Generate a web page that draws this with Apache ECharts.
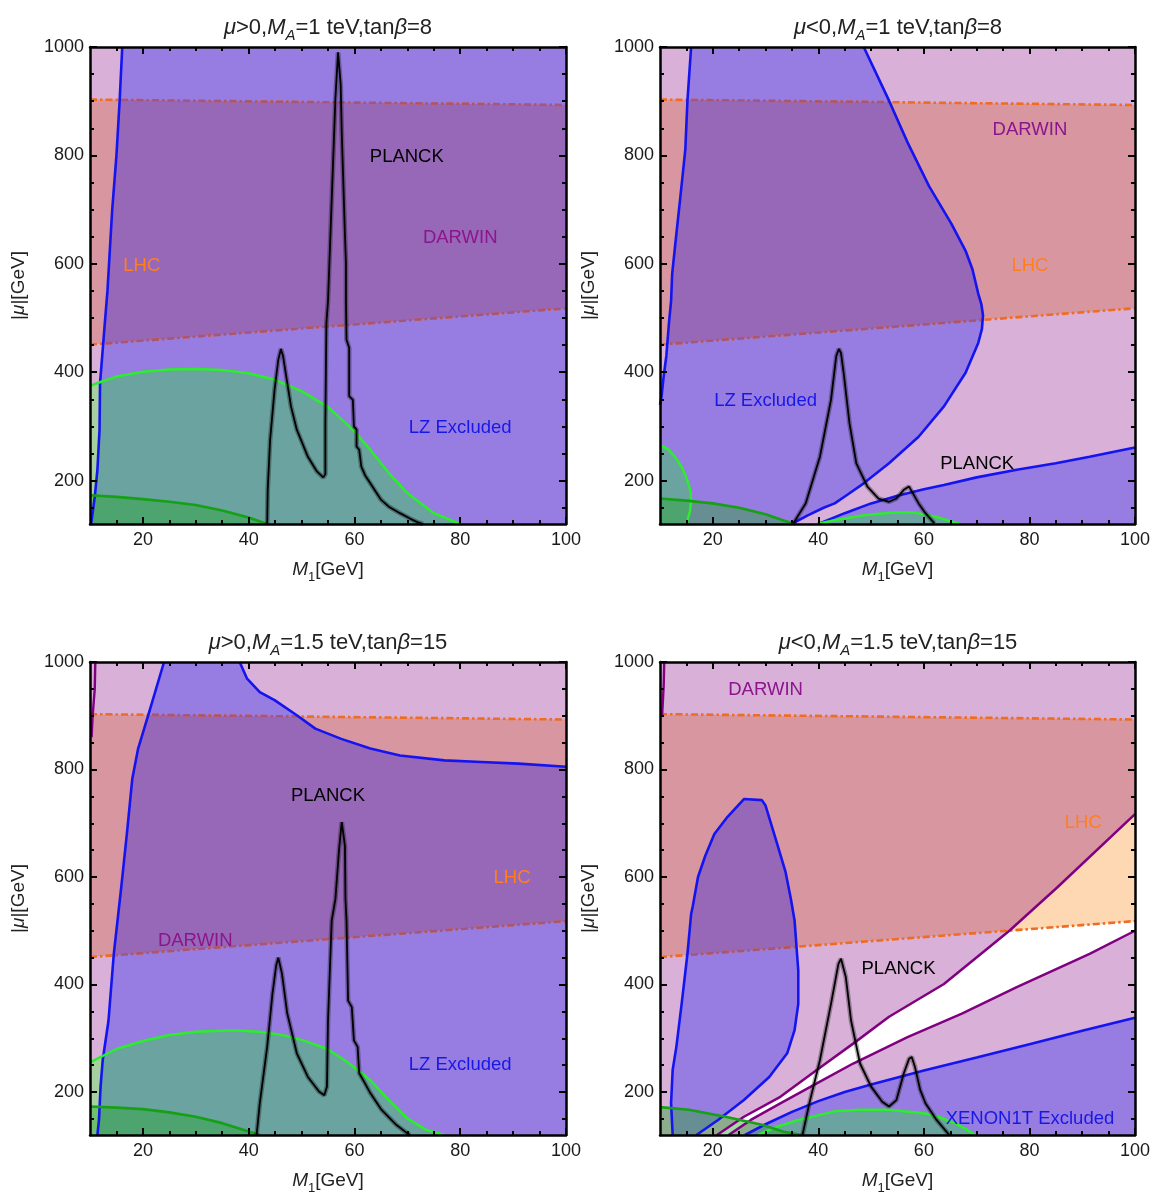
<!DOCTYPE html>
<html><head><meta charset="utf-8">
<script src="https://cdn.jsdelivr.net/npm/echarts@6/dist/echarts.min.js"></script>
<style>html,body{margin:0;padding:0;background:#fff}#c{width:1153px;height:1196px}</style>
</head><body><div id="c"></div>
<script>
// ---------------- DATA ----------------
const X_MIN = 10, X_MAX = 100, Y_MIN = 120, Y_MAX = 1000;
const xMajor = [20, 40, 60, 80, 100];
const xMinor = [15, 25, 30, 35, 45, 50, 55, 65, 70, 75, 85, 90, 95];
const yMajor = [200, 400, 600, 800, 1000];
const yMinor = [150, 250, 300, 350, 450, 500, 550, 650, 700, 750, 850, 900, 950];

const titles = [
  '{i|μ}>0,{i|M}{s|A}=1 teV,tan{i|β}=8',
  '{i|μ}<0,{i|M}{s|A}=1 teV,tan{i|β}=8',
  '{i|μ}>0,{i|M}{s|A}=1.5 teV,tan{i|β}=15',
  '{i|μ}<0,{i|M}{s|A}=1.5 teV,tan{i|β}=15'
];

// LHC band boundaries (same in all panels)
const lhcUpper = [[10, 903], [100, 893]];
const lhcLower = [[10, 451], [100, 518]];

// Panel A: mu>0, MA=1 TeV, tanb=8
const aLZ = [[10.2,120],[10.4,133],[10.9,170],[11.4,220],[11.8,293],[11.9,380],[12.7,478],[13.3,550],[14.2,700],[15.0,800],[15.6,900],[16.1,1000]];
const aGreen = [[10,375],[12,382],[15,392],[20,401],[25,405],[30,406],[35,404],[40,398],[45,386],[50,365],[55,336],[60,291],[63,257],[66.5,214],[70,177],[75,140],[80,120]];
const aDarkGreen = [[10,173],[15,170],[20,166],[25,161],[30,155],[35,145],[40,132],[43.5,120]];
const aPlanck = [[43.5,120],[43.6,183],[44.05,275],[44.9,368],[45.6,423],[46.1,443],[46.5,430],[47,399],[48,337],[49.1,294],[51.2,244],[52.9,217],[54.1,206],[54.5,212],[54.5,306],[54.7,491],[55,531],[55.7,718],[56.4,905],[56.9,990],[57.4,930],[57.6,842],[58.2,655],[58.4,600],[58.4,531],[58.5,460],[59,445],[59,356],[59.7,349],[59.9,300],[60.4,294],[60.4,263],[60.9,257],[61.3,226],[62,210],[63,195],[64,180],[65,165],[66.5,152],[68.6,140],[70.5,130],[72,123],[73,120]];

// Panel B: mu<0, MA=1 TeV, tanb=8
const bLZLeft = [[15.9,1000],[15.2,901],[14.8,811],[13.8,718],[13.1,655],[12.3,581],[12.1,531],[11.7,491],[11.2,430],[10.7,393],[10.3,356],[10,340]];
const bLZRight = [[34.9,120],[38,136],[41,150],[43.1,158],[45.5,174],[48.6,195],[53.4,232],[59,281],[63.8,337],[67.9,399],[70.3,454],[71.0,480],[71.2,505],[70.9,525],[70.3,545],[69.2,590],[67.9,624],[65.2,674],[61,743],[56.9,824],[53.4,901],[48.6,1000]];
const bLZLower = [[40,120],[45,140],[50,158],[55,172],[60,184],[63.8,192],[70,206],[77.6,220],[85,232],[91.4,244],[100,261]];
const bGreenLeft = [[10,266],[11.5,258],[13,242],[14.3,222],[15.2,200],[15.8,180],[15.9,165],[15.7,145],[15.3,130],[15,120]];
const bGreenBump = [[39.7,120],[43.1,127],[48.6,136],[54.1,141],[58.3,141],[62.4,133],[65.9,123],[66.9,120]];
const bDarkGreen = [[10,167],[15,163],[20,158],[25,150],[30,138],[33,128],[35.5,120]];
const bPlanck = [[35.2,120],[37.6,158],[40.3,244],[42.4,349],[43.4,430],[43.9,443],[44.3,435],[44.8,399],[45.9,306],[47.2,232],[49.3,189],[51.4,167],[53.4,161],[54.8,167],[56.2,183],[57.2,189],[57.9,177],[59,158],[60.3,140],[62,121]];

// Panel C: mu>0, MA=1.5 TeV, tanb=15
const cLZLeft = [[11.4,120],[11.7,148],[12,210],[12.4,259],[13.5,333],[14.5,457],[15.9,580],[17,683],[18,783],[19.1,839],[21.2,907],[24,1000]];
const cLZTop = [[38.3,1000],[39.7,969],[42.1,944],[44.9,929],[49.1,901],[52.6,876],[57.5,857],[63,839],[68.6,826],[77,817],[84,814],[91,811],[100,805]];
const cGreen = [[10,255],[15,280],[20,295],[25,306],[30,312],[37,315],[42,312],[46.3,306],[50,297],[54.7,281],[58,260],[60.2,244],[63,222],[66.5,185],[70,151],[73.5,130],[77,120]];
const cDarkGreen = [[10,173],[15,171],[20,168],[25,162],[30,154],[35,142],[37.9,133],[42.1,120]];
const cPlanck = [[41.5,120],[42.1,179],[43.5,284],[44.5,383],[45.2,435],[45.6,450],[46.3,420],[47.3,346],[49.1,272],[51.2,228],[53.3,201],[54.3,194],[54.8,210],[55,333],[55.7,519],[56.4,559],[57.1,652],[57.6,702],[58.2,658],[58.3,559],[58.5,519],[58.8,370],[59.5,358],[59.9,296],[60.6,284],[60.9,235],[62,216],[63,198],[65.1,167],[67.9,139],[70,123],[70.5,120]];
const cDarwinEdge = [[11,1000],[10.9,950],[10.5,900],[10.3,860]];

// Panel D: mu<0, MA=1.5 TeV, tanb=15
const dBlob = [[12.4,120],[12.1,179],[12.4,241],[13.1,284],[14.1,364],[15.2,457],[15.9,531],[16.2,545],[17.2,600],[18.6,640],[20.3,680],[22.8,712],[25.9,745],[29.3,743],[30,733],[32.1,665],[33.8,609],[34.8,559],[35.5,519],[36.2,426],[36.2,364],[35.5,315],[34.1,272],[30.7,228],[25.9,185],[21,148],[16.9,120]];
const dXenonLine = [[26.1,120],[30,140],[35,163],[40,183],[45,200],[50,214],[55,227],[60,240],[70,264],[80,289],[90,314],[100,338]];
const dPurpleUpper = [[20.8,120],[25.9,154],[32.8,191],[39.7,241],[46.6,290],[53.4,340],[63.8,401],[76.2,500],[85.2,580],[100,717]];
const dPurpleLower = [[23,120],[27.2,148],[32.8,179],[39.7,216],[46.6,253],[56.9,302],[67.2,346],[77.6,395],[91.4,457],[100,500]];
const dGreenBump = [[28.6,120],[32,135],[36.2,148],[43.1,164],[48,167],[53.4,167],[60.3,160],[63,153],[65.9,142],[68,131],[69.7,120]];
const dDarkGreen = [[10,172],[15.5,167],[22.4,154],[29.3,139],[33.4,126],[36.9,120]];
const dPlanck = [[37,120],[38.3,179],[40.3,259],[42.4,364],[43.8,438],[44.3,448],[45.2,414],[46.2,333],[47.9,253],[50,210],[52.1,182],[53.4,173],[54.8,185],[56.2,235],[57.2,262],[57.7,265],[58.3,247],[59.3,204],[60.3,179],[62.4,148],[64.8,120]];
const dDarwinEdge = [[10.8,1000],[10.7,956],[10.4,900]];

// ---------------- STYLE / LAYOUT ----------------
const FONT = '"Liberation Sans", Arial, sans-serif';
const C_DARWIN = '#D8B0D8', C_LHC = '#D896A0', C_PEACH = '#FDD8B2', C_WHITE = '#FFFFFF';
const C_LZ = '#977DE1', C_LZLHC = '#9868B8', C_G1 = '#A6D0A0', C_TEAL = '#6AA3A0';
const C_G2 = 'rgba(39,166,41,0.42)';
const C_BLUE = '#1414F0', C_GREEN = '#2CEE2C', C_DGREEN = '#16A016', C_PURPLE = '#800080';
const C_DASH = '#F06C20', C_DASH_UNDER = '#A4567C';
const DASH = [7, 3, 2.5, 3];
const GRID_POS = [[90, 47], [660, 47], [90, 662], [660, 662]];
const GW = 476, GH = 477;

const RECT = [[X_MIN, Y_MIN], [X_MAX, Y_MIN], [X_MAX, Y_MAX], [X_MIN, Y_MAX]];
const lhcBand = [...lhcLower, ...lhcUpper.slice().reverse()];

// polygons built from boundary curves
const aLZpoly = [...aLZ, [X_MAX, Y_MAX], [X_MAX, Y_MIN]];
const aG1 = [[X_MIN, Y_MIN], ...aGreen];
const aG2 = [[X_MIN, Y_MIN], ...aDarkGreen];
const bLZ1 = [...bLZLeft, [X_MIN, Y_MIN], ...bLZRight];
const bLZ2 = [...bLZLower, [X_MAX, Y_MIN]];
const bG1a = [...bGreenLeft, [X_MIN, Y_MIN]];
const bG2 = [[X_MIN, Y_MIN], ...bDarkGreen];
const cLZpoly = [...cLZLeft, ...cLZTop, [X_MAX, Y_MIN]];
const cG1 = [[X_MIN, Y_MIN], ...cGreen];
const cG2 = [[X_MIN, Y_MIN], ...cDarkGreen];
const dBand = [...dPurpleUpper, ...dPurpleLower.slice().reverse()];
const dXen = [...dXenonLine, [X_MAX, Y_MIN]];
const dG2 = [[X_MIN, Y_MIN], ...dDarkGreen];

const F = (poly, color, clips) => ({kind: 'fill', poly, color, clips});
const L = (pts, color, width, dash, clips) => ({kind: 'line', pts, color, width, dash, clips});
const T = (text, at, color) => ({kind: 'text', text, at, color});

const dashLayers = (under) => [
  L(lhcUpper, C_DASH, 2.6, DASH), L(lhcLower, C_DASH, 2.6, DASH),
  L(lhcUpper, C_DASH_UNDER, 2.6, DASH, [under]), L(lhcLower, C_DASH_UNDER, 2.6, DASH, [under])
];

const panels = [
  { fills: [F(RECT, C_DARWIN), F(lhcBand, C_LHC), F(aLZpoly, C_LZ), F(aLZpoly, C_LZLHC, [lhcBand]),
            F(aG1, C_G1), F(aG1, C_TEAL, [aLZpoly]), F(aG2, C_G2), ...dashLayers(aLZpoly)],
    lines: [[aLZ, C_BLUE, 2.6], [aGreen, C_GREEN, 2.5], [aDarkGreen, C_DGREEN, 2.7]],
    planck: aPlanck,
    labels: [T('PLANCK', [69.9, 797], '#000'), T('DARWIN', [80, 648], '#8C148C'), T('LHC', [19.8, 597], '#FF7F1E'), T('LZ Excluded', [80, 298], '#1818E6')] },
  { fills: [F(RECT, C_DARWIN), F(lhcBand, C_LHC), F(bLZ1, C_LZ), F(bLZ2, C_LZ), F(bLZ1, C_LZLHC, [lhcBand]),
            F(bG1a, C_G1), F(bG1a, C_TEAL, [bLZ1]), F(bGreenBump, C_G1), F(bGreenBump, C_TEAL, [bLZ2]), F(bG2, C_G2), ...dashLayers(bLZ1)],
    lines: [[bLZLeft, C_BLUE, 2.6], [bLZRight, C_BLUE, 2.6], [bLZLower, C_BLUE, 2.6], [bGreenLeft, C_GREEN, 2.5], [bGreenBump, C_GREEN, 2.5], [bDarkGreen, C_DGREEN, 2.7]],
    planck: bPlanck,
    labels: [T('DARWIN', [80.1, 847], '#8C148C'), T('LHC', [80.1, 597], '#FF7F1E'), T('LZ Excluded', [30, 348], '#1818E6'), T('PLANCK', [70.1, 230], '#000')] },
  { fills: [F(RECT, C_DARWIN), F(lhcBand, C_LHC), F(cLZpoly, C_LZ), F(cLZpoly, C_LZLHC, [lhcBand]),
            F(cG1, C_G1), F(cG1, C_TEAL, [cLZpoly]), F(cG2, C_G2), ...dashLayers(cLZpoly)],
    lines: [[cLZLeft, C_BLUE, 2.6], [cLZTop, C_BLUE, 2.6], [cGreen, C_GREEN, 2.5], [cDarkGreen, C_DGREEN, 2.7], [cDarwinEdge, C_PURPLE, 2.4]],
    planck: cPlanck,
    labels: [T('PLANCK', [55, 750], '#000'), T('LHC', [89.8, 599], '#FF7F1E'), T('DARWIN', [29.9, 481], '#8C148C'), T('LZ Excluded', [80, 250], '#1818E6')] },
  { fills: [F(RECT, C_DARWIN), F(dBand, C_WHITE), F(lhcBand, C_LHC), F(lhcBand, C_PEACH, [dBand]),
            F(dBlob, C_LZ), F(dXen, C_LZ), F(dBlob, C_LZLHC, [lhcBand]),
            F(dGreenBump, C_G1), F(dGreenBump, C_TEAL, [dXen]), F(dG2, C_G2), ...dashLayers(dBlob)],
    lines: [[dBlob, C_BLUE, 2.6], [dXenonLine, C_BLUE, 2.6], [dPurpleUpper, C_PURPLE, 2.5], [dPurpleLower, C_PURPLE, 2.5], [dGreenBump, C_GREEN, 2.5], [dDarkGreen, C_DGREEN, 2.7], [dDarwinEdge, C_PURPLE, 2.4]],
    planck: dPlanck,
    labels: [T('DARWIN', [30, 949], '#8C148C'), T('LHC', [90.2, 700], '#FF7F1E'), T('PLANCK', [55.2, 429], '#000'), T('XENON1T Excluded', [80.1, 150], '#1818E6')] }
];

// ---------------- BUILD ----------------
function P(api, arr) { return arr.map(p => api.coord(p)); }
function buildEl(api, o) {
  let el;
  if (o.kind === 'fill') {
    el = {type: 'polygon', shape: {points: P(api, o.poly)}, style: {fill: o.color, stroke: null}};
  } else if (o.kind === 'line') {
    el = {type: 'polyline', shape: {points: P(api, o.pts)}, style: {fill: null, stroke: o.color, lineWidth: o.width, lineDash: o.dash || null}};
  } else {
    const c = api.coord(o.at);
    el = {type: 'text', x: c[0], y: c[1], style: {text: o.text, fill: o.color, font: '18.5px ' + FONT, align: 'center', verticalAlign: 'middle'}};
  }
  const clips = o.clips || [];
  if (clips.length) {
    el.clipPath = {type: 'polygon', shape: {points: P(api, clips[0])}};
    for (let i = 1; i < clips.length; i++) {
      el = {type: 'group', children: [el], clipPath: {type: 'polygon', shape: {points: P(api, clips[i])}}};
    }
  }
  return el;
}
function customSeries(gi, items, z) {
  return {type: 'custom', coordinateSystem: 'cartesian2d', xAxisIndex: 4 * gi, yAxisIndex: 4 * gi,
    clip: true, silent: true, z, data: [[X_MIN, Y_MIN]],
    renderItem: (params, api) => ({type: 'group', children: items.map(o => buildEl(api, o))})};
}
function lineSeries(gi, data, color, width, z) {
  return {type: 'line', xAxisIndex: 4 * gi, yAxisIndex: 4 * gi, data, showSymbol: false, symbol: 'none',
    lineStyle: {color, width}, silent: true, z, clip: true};
}

const tickStyle = {color: '#000', width: 2};
const lineStyle = {color: '#000', width: 2.5};
const richName = {
  i: {fontStyle: 'italic', fontSize: 19, fontFamily: FONT, color: '#222', lineHeight: 28},
  n: {fontSize: 13, fontFamily: FONT, color: '#222', verticalAlign: 'bottom', lineHeight: 14}
};
const plain = v => String(v);
const grid = [], xAxis = [], yAxis = [], title = [], series = [];
GRID_POS.forEach(([left, top], gi) => {
  grid.push({left, top, width: GW, height: GH, show: false, containLabel: false});
  const xb = {type: 'value', gridIndex: gi, min: X_MIN, max: X_MAX, splitLine: {show: false}, z: 10};
  const yb = {type: 'value', gridIndex: gi, min: Y_MIN, max: Y_MAX, splitLine: {show: false}, z: 10};
  xAxis.push(
    {...xb, position: 'bottom', axisLine: {show: true, lineStyle}, axisTick: {show: true, inside: true, length: 7, lineStyle: tickStyle, customValues: xMajor},
     axisLabel: {show: true, customValues: xMajor, formatter: plain, fontSize: 18, color: '#1a1a1a', fontFamily: FONT, margin: 7},
     name: '{i|M}{n|1}[GeV]', nameLocation: 'middle', nameGap: 32,
     nameTextStyle: {fontSize: 19, fontFamily: FONT, color: '#222', lineHeight: 28, rich: richName}},
    {...xb, position: 'bottom', axisLine: {show: false}, axisTick: {show: true, inside: true, length: 4, lineStyle: tickStyle, customValues: xMinor}, axisLabel: {show: false}},
    {...xb, position: 'top', axisLine: {show: true, lineStyle}, axisTick: {show: true, inside: true, length: 7, lineStyle: tickStyle, customValues: xMajor}, axisLabel: {show: false}},
    {...xb, position: 'top', axisLine: {show: false}, axisTick: {show: true, inside: true, length: 4, lineStyle: tickStyle, customValues: xMinor}, axisLabel: {show: false}}
  );
  yAxis.push(
    {...yb, position: 'left', axisLine: {show: true, lineStyle}, axisTick: {show: true, inside: true, length: 7, lineStyle: tickStyle, customValues: yMajor},
     axisLabel: {show: true, customValues: yMajor, formatter: plain, fontSize: 18, color: '#1a1a1a', fontFamily: FONT, margin: 6},
     name: '|{i|μ}|[GeV]', nameLocation: 'middle', nameGap: 57, nameRotate: 90,
     nameTextStyle: {fontSize: 19, fontFamily: FONT, color: '#222', lineHeight: 28, rich: richName}},
    {...yb, position: 'left', axisLine: {show: false}, axisTick: {show: true, inside: true, length: 4, lineStyle: tickStyle, customValues: yMinor}, axisLabel: {show: false}},
    {...yb, position: 'right', axisLine: {show: true, lineStyle}, axisTick: {show: true, inside: true, length: 7, lineStyle: tickStyle, customValues: yMajor}, axisLabel: {show: false}},
    {...yb, position: 'right', axisLine: {show: false}, axisTick: {show: true, inside: true, length: 4, lineStyle: tickStyle, customValues: yMinor}, axisLabel: {show: false}}
  );
  title.push({text: titles[gi], left: left + GW / 2, top: top - 34, textAlign: 'center', padding: 0,
    textStyle: {fontSize: 22, fontFamily: FONT, color: '#222', fontWeight: 'normal', lineHeight: 30,
      rich: {i: {fontStyle: 'italic', fontSize: 22, fontFamily: FONT, color: '#222', lineHeight: 30},
             s: {fontStyle: 'italic', fontSize: 15, fontFamily: FONT, color: '#222', verticalAlign: 'bottom', lineHeight: 15}}}});
  const p = panels[gi];
  series.push(customSeries(gi, p.fills, 2));
  p.lines.forEach(([d, c, w]) => series.push(lineSeries(gi, d, c, w, 3)));
  series.push(lineSeries(gi, p.planck, 'rgba(0,0,0,0.3)', 4.8, 4));
  series.push(lineSeries(gi, p.planck, '#000', 1.8, 4));
  series.push(customSeries(gi, p.labels, 5));
});

const chart = echarts.init(document.getElementById('c'), null, {renderer: 'canvas'});
chart.setOption({animation: false, backgroundColor: '#fff', grid, xAxis, yAxis, title, series});
</script></body></html>
